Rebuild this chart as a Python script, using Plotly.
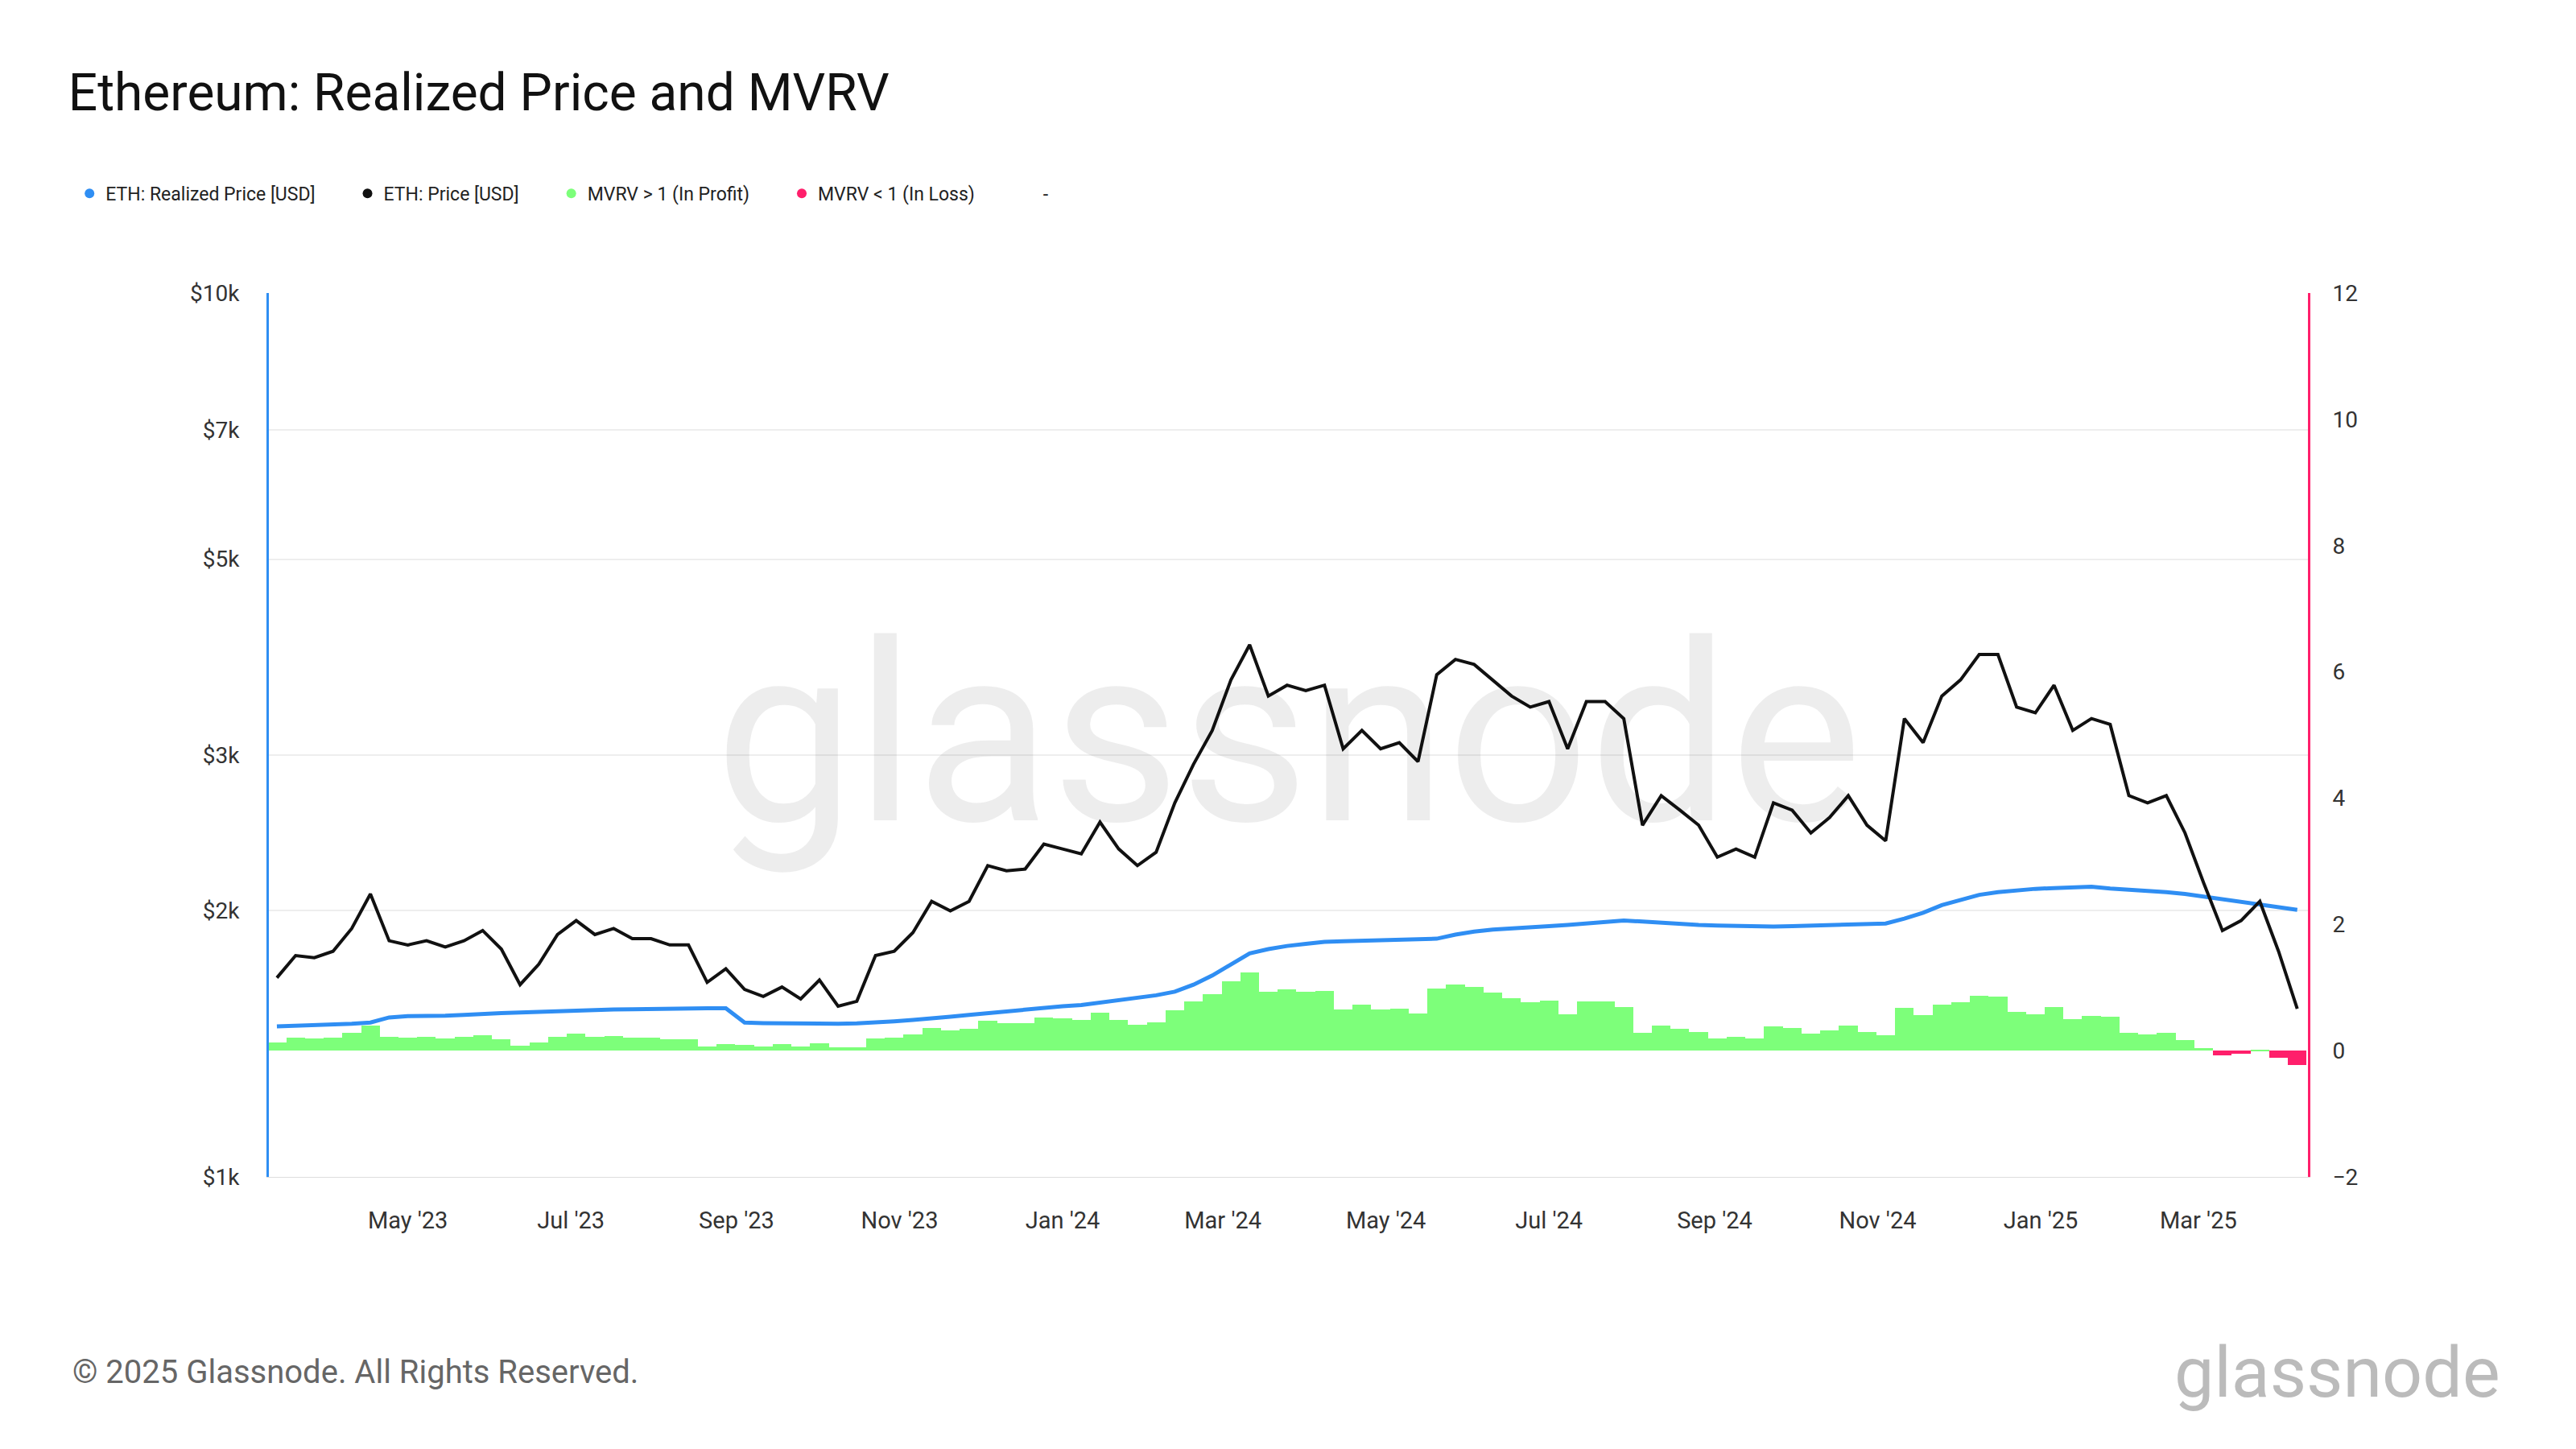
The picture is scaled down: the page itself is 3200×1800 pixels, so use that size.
import plotly.graph_objects as go
import pandas as pd

dates = pd.date_range("2023-03-13", periods=109, freq="7D").strftime("%Y-%m-%d").tolist()
price = [1680,1780,1770,1800,1910,2090,1850,1830,1850,1820,1850,1900,1810,1650,1740,1880,1950,1880,1910,1860,
         1860,1830,1830,1660,1720,1630,1600,1640,1590,1670,1560,1580,1780,1800,1890,2050,2000,2050,2250,2220,
         2230,2380,2350,2320,2520,2350,2250,2330,2650,2930,3200,3650,4000,3500,3600,3550,3600,3050,3200,3050,
         3100,2950,3700,3850,3800,3650,3500,3400,3450,3050,3450,3450,3300,2500,2700,2600,2500,2300,2350,2300,
         2650,2600,2450,2550,2700,2500,2400,3300,3100,3500,3650,3900,3900,3400,3350,3600,3200,3300,3250,2700,
         2650,2700,2450,2150,1900,1950,2050,1800,1550]
realized = [1480,1482,1485,1487,1490,1495,1515,1520,1520,1522,1525,1530,1532,1535,1538,1540,1542,1545,1547,1548,
            1550,1550,1551,1552,1552,1495,1493,1492,1490,1490,1490,1492,1495,1500,1505,1510,1518,1525,1532,1540,
            1548,1555,1560,1565,1575,1585,1595,1605,1620,1650,1690,1740,1790,1810,1825,1835,1845,1848,1850,1852,
            1855,1857,1860,1880,1895,1905,1912,1918,1922,1928,1935,1945,1950,1945,1938,1932,1928,1925,1922,1920,
            1920,1922,1924,1926,1928,1930,1935,1960,1990,2030,2060,2085,2100,2110,2118,2122,2128,2130,2120,2115,
            2110,2100,2090,2075,2060,2045,2030,2015,2005]

mvrv_dev = [p / r - 1 for p, r in zip(price, realized)]
bar_colors = ["#7dff7a" if v >= 0 else "#ff1f6b" for v in mvrv_dev]

fig = go.Figure()
fig.add_trace(go.Bar(x=dates, y=mvrv_dev, marker_color=bar_colors, marker_line_width=0,
                     width=7*86400000, showlegend=False, yaxis="y"))
fig.add_trace(go.Scatter(x=dates, y=realized, mode="lines", showlegend=False,
                         line=dict(color="#2f8ef3", width=5), yaxis="y2"))
fig.add_trace(go.Scatter(x=dates, y=price, mode="lines", showlegend=False,
                         line=dict(color="#111111", width=4), yaxis="y2"))
pad = "\u00a0" * 7
for name, col in [("ETH: Realized Price [USD]", "#2f8ef3"), ("ETH: Price [USD]", "#111111"),
                  ("MVRV > 1 (In Profit)", "#7dff7a"), ("MVRV < 1 (In Loss)", "#ff1f6b"),
                  ("-", "rgba(0,0,0,0)")]:
    fig.add_trace(go.Scatter(x=[None], y=[None], name=name + pad, mode="markers",
                             marker=dict(color=col, size=14), yaxis="y2"))

fig.update_layout(
    width=3200, height=1800, paper_bgcolor="white", plot_bgcolor="white",
    font=dict(family="Roboto", color="#333"),
    title=dict(text="Ethereum: Realized Price and MVRV", x=0.024, y=0.941, xanchor="left",
               yanchor="middle", font=dict(size=64, color="#111")),
    margin=dict(l=326, r=341, t=356, b=346),
    showlegend=True,
    legend=dict(orientation="h", x=0.026, y=0.871, xref="container", xanchor="left", yanchor="middle",
                yref="container", font=dict(size=23, color="#222"), itemsizing="constant",
                itemwidth=30),
    bargap=0,
    xaxis=dict(type="date", range=["2023-03-10", "2025-04-11"], showgrid=False,
               tickvals=["2023-05-01","2023-07-01","2023-09-01","2023-11-01","2024-01-01","2024-03-01",
                         "2024-05-01","2024-07-01","2024-09-01","2024-11-01","2025-01-01","2025-03-01"],
               ticktext=["May '23","Jul '23","Sep '23","Nov '23","Jan '24","Mar '24","May '24","Jul '24",
                         "Sep '24","Nov '24","Jan '25","Mar '25"],
               ticks="outside", ticklen=28, tickcolor="rgba(0,0,0,0)", tickfont=dict(size=29, color="#333"),
               showline=True, linecolor="#ddd"),
    yaxis=dict(side="right", range=[-2, 12], tickvals=[-2,0,2,4,6,8,10,12], showgrid=False,
               zeroline=False, showline=True, linecolor="#ff1f6b", linewidth=3,
               ticks="outside", ticklen=22, tickcolor="rgba(0,0,0,0)",
               tickfont=dict(size=28, color="#333")),
    yaxis2=dict(side="left", overlaying="y", type="log", range=[3, 4],
                tickvals=[1000,2000,3000,5000,7000,10000],
                ticktext=["$1k","$2k","$3k","$5k","$7k","$10k"],
                ticks="outside", ticklen=28, tickcolor="rgba(0,0,0,0)",
                showgrid=True, gridcolor="#eeeeee", gridwidth=2, showline=True,
                linecolor="#2f8ef3", linewidth=3, tickfont=dict(size=28, color="#333")),
    annotations=[
        dict(text="glassnode", x=0.5, y=0.5, xref="paper", yref="paper", showarrow=False,
             font=dict(size=310, color="rgba(0,0,0,0.07)", family="Roboto")),
        dict(text="© 2025 Glassnode. All Rights Reserved.", x=-0.097, y=-0.221, xref="paper",
             yref="paper", xanchor="left", yanchor="middle", showarrow=False,
             font=dict(size=40, color="#666")),
        dict(text="glassnode", x=1.095, y=-0.221, xref="paper", yref="paper", xanchor="right",
             yanchor="middle", showarrow=False, font=dict(size=88, color="#bbbbbb")),
    ],
)
fig.write_html("out.html")
